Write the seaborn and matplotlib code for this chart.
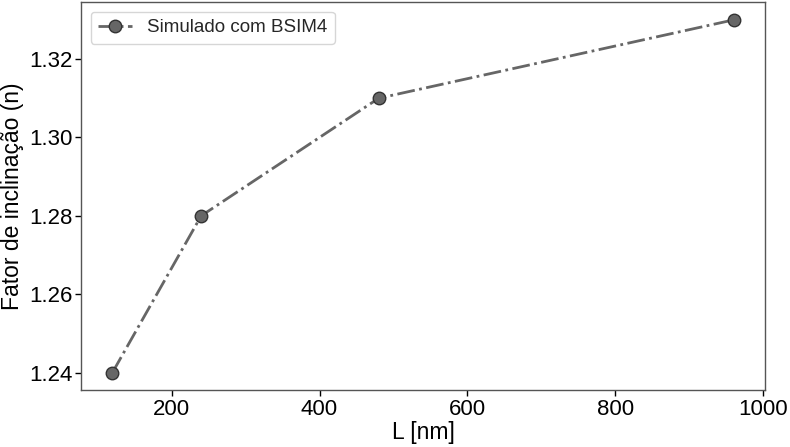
import matplotlib
matplotlib.use("Agg")
import matplotlib.pyplot as plt
import seaborn as sns
import pandas as pd

L_nm = [120, 240, 480, 960]
n_values = [1.24, 1.28, 1.31, 1.33]
series_label = "Simulado com BSIM4"

sns.set_theme(style="white")
plt.rcParams['font.family'] = ['Liberation Sans', 'DejaVu Sans']

df = pd.DataFrame({"L": L_nm, "n": n_values})

fig, ax = plt.subplots(figsize=(7.9, 4.47), dpi=100)
sns.lineplot(data=df, x="L", y="n", ax=ax, color="#666666", linestyle="-.",
             linewidth=2, marker="o", markersize=9, markerfacecolor="#666666",
             markeredgecolor="#333333", markeredgewidth=1, label=series_label)

ax.set_xlabel("L [nm]", fontsize=16.5, color="black", labelpad=1)
ax.set_ylabel("Fator de inclinação (n)", fontsize=16.5, color="black", labelpad=4)
ax.set_yticks([1.24, 1.26, 1.28, 1.30, 1.32])
ax.set_xticks([200, 400, 600, 800, 1000])
ax.tick_params(axis="both", labelsize=16, colors="black", length=4, width=1, direction="out", left=True, bottom=True, pad=2)
for s in ax.spines.values():
    s.set_color("#555555")
    s.set_linewidth(1)
ax.legend(loc="upper left", fontsize=13.5, frameon=True, handlelength=1.8)
fig.subplots_adjust(left=0.103, right=0.968, top=0.995, bottom=0.127)
fig.savefig("out.png", dpi=100)
